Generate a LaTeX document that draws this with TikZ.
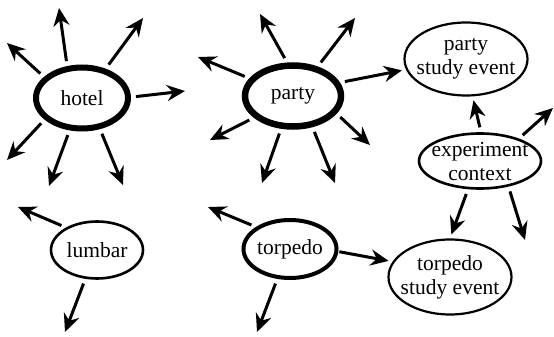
\documentclass[tikz,border=0pt]{standalone}
\usepackage{fontspec}
\setmainfont{Liberation Serif}
\usetikzlibrary{arrows.meta,shapes.geometric}
\begin{document}
\begin{tikzpicture}[x=1pt,y=-1pt,
  ell/.style={ellipse,draw,inner xsep=-8pt,inner ysep=-8pt,align=center,
              font=\fontsize{21.5}{24}\selectfont},
  arr/.style={line width=3pt,-{Stealth[length=18pt,width=16pt,inset=6pt]},shorten <=5pt},
  toarr/.style={arr,shorten >=4pt}]
\useasboundingbox (0,0) rectangle (554,337);
% nodes
\node[ell,line width=6pt,minimum width=92pt,minimum height=61pt] (hotel) at (82,98) {hotel};
\node[ell,line width=6.5pt,minimum width=96pt,minimum height=61pt] (party) at (293,96) {party};
\node[ell,line width=2.2pt,minimum width=123pt,minimum height=73pt] (pse) at (466,59) {party\\study event};
\node[ell,line width=2.6pt,minimum width=122pt,minimum height=55pt] (ec) at (480,161) {experiment\\context};
\node[ell,line width=2.2pt,minimum width=123pt,minimum height=75pt] (tse) at (450,277) {torpedo\\study event};
\node[ell,line width=2.6pt,minimum width=92pt,minimum height=57pt] (lumbar) at (97,250) {lumbar};
\node[ell,line width=4pt,minimum width=93pt,minimum height=58pt] (torpedo) at (290,249) {torpedo};
% free ends
\coordinate (h1) at (59,8);
\coordinate (h2) at (7,43);
\coordinate (h3) at (143,18);
\coordinate (h4) at (185,91);
\coordinate (h5) at (7,160);
\coordinate (h6) at (49,186);
\coordinate (h7) at (123,185);
\coordinate (p1) at (260,14);
\coordinate (p2) at (355,18);
\coordinate (p3) at (198,57);
\coordinate (p5) at (370,145);
\coordinate (p6) at (210,140);
\coordinate (p7) at (262,183);
\coordinate (p8) at (335,183);
\coordinate (e1) at (553,108);
\coordinate (e2) at (525,240);
\coordinate (l1) at (18,207);
\coordinate (l2) at (65,332);
\coordinate (t1) at (208,207);
\coordinate (t2) at (257,332);
% hotel arrows
\draw[arr] (hotel.115) -- (h1);
\draw[arr] (hotel.151) -- (h2);
\draw[arr] (hotel.51) -- (h3);
\draw[arr] (hotel.1) -- (h4);
\draw[arr] (hotel.210) -- (h5);
\draw[arr] (hotel.249) -- (h6);
\draw[arr] (hotel.300) -- (h7);
% party arrows
\draw[arr] (party.100) -- (p1);
\draw[arr] (party.50) -- (p2);
\draw[arr] (party.158) -- (p3);
\draw[toarr] (party.16) -- (pse.190);
\draw[arr] (party.338) -- (p5);
\draw[arr] (party.209) -- (p6);
\draw[arr] (party.250) -- (p7);
\draw[arr] (party.302) -- (p8);
% experiment context arrows
\draw[toarr] (ec.88) -- (pse.-80);
\draw[arr] (ec.30) -- (e1);
\draw[toarr] (ec.247) -- (tse.north);
\draw[arr] (ec.318) -- (e2);
% lumbar
\draw[arr] (lumbar.144) -- (l1);
\draw[arr] (lumbar.248) -- (l2);
% torpedo
\draw[arr] (torpedo.147) -- (t1);
\draw[arr] (torpedo.247) -- (t2);
\draw[toarr,shorten <=1pt] (torpedo.-3) -- (tse.165);
\end{tikzpicture}
\end{document}
